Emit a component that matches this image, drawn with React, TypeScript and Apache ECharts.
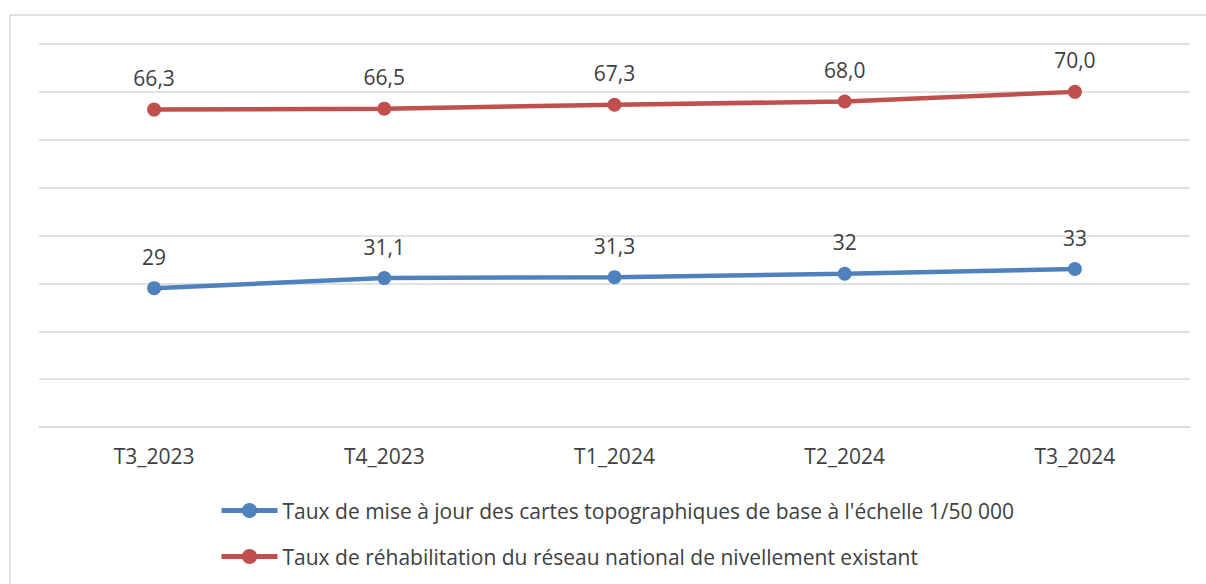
import React, { useEffect, useRef } from "react";
import * as echarts from "echarts";

const categories = ["T3_2023", "T4_2023", "T1_2024", "T2_2024", "T3_2024"];
const seriesNames = [
  "Taux de mise à jour des cartes topographiques de base à l'échelle 1/50 000",
  "Taux de réhabilitation du réseau national de nivellement existant",
];
const cartesValues = [29, 31.1, 31.3, 32, 33];
const cartesLabels = ["29", "31,1", "31,3", "32", "33"];
const nivellementValues = [66.3, 66.5, 67.3, 68.0, 70.0];
const nivellementLabels = ["66,3", "66,5", "67,3", "68,0", "70,0"];

const FONT = "'Open Sans', sans-serif";
const TEXT = "#404040";
const FS = 21;

export default function App() {
  const ref = useRef<HTMLDivElement>(null);
  useEffect(() => {
    if (!ref.current) return;
    const chart = echarts.init(ref.current, undefined, { renderer: "svg" });
    const mkSeries = (name: string, values: number[], labels: string[], color: string) => ({
      name,
      type: "line",
      data: values,
      symbol: "circle",
      symbolSize: 14,
      lineStyle: { color, width: 4.5 },
      itemStyle: { color },
      label: {
        show: true,
        position: "top",
        distance: 14,
        color: TEXT,
        fontFamily: FONT,
        fontSize: FS,
        formatter: (p: any) => labels[p.dataIndex],
      },
    });
    chart.setOption({
      animation: false,
      backgroundColor: "#ffffff",
      graphic: [
        {
          type: "rect",
          shape: { x: 10, y: 15, width: 1400, height: 800 },
          style: { fill: "none", stroke: "#d9d9d9", lineWidth: 1.5 },
          silent: true,
        },
      ],
      grid: { left: 39, right: 16, top: 44, bottom: 157, containLabel: false },
      xAxis: {
        type: "category",
        data: categories,
        boundaryGap: true,
        axisLine: { show: true, lineStyle: { color: "#d9d9d9", width: 1.5 } },
        axisTick: { show: false },
        axisLabel: { color: TEXT, fontFamily: FONT, fontSize: FS, margin: 18 },
      },
      yAxis: {
        type: "value",
        min: 0,
        max: 80,
        interval: 10,
        axisLabel: { show: false },
        axisLine: { show: false },
        axisTick: { show: false },
        splitLine: { lineStyle: { color: "#d9d9d9", width: 1.5 } },
      },
      legend: {
        orient: "vertical",
        left: 219,
        top: 500,
        padding: 0,
        itemWidth: 56,
        itemHeight: 19,
        itemGap: 25,
        itemStyle: { borderWidth: 0 },
        lineStyle: { width: 5 },
        textStyle: { color: TEXT, fontFamily: FONT, fontSize: FS },
        data: seriesNames,
      },
      series: [
        mkSeries(seriesNames[0], cartesValues, cartesLabels, "#4f81bd"),
        mkSeries(seriesNames[1], nivellementValues, nivellementLabels, "#c0504d"),
      ],
    });
    return () => chart.dispose();
  }, []);
  return (
    <div
      ref={ref}
      style={{ position: "fixed", left: 0, top: 0, width: 1206, height: 584 }}
    />
  );
}
